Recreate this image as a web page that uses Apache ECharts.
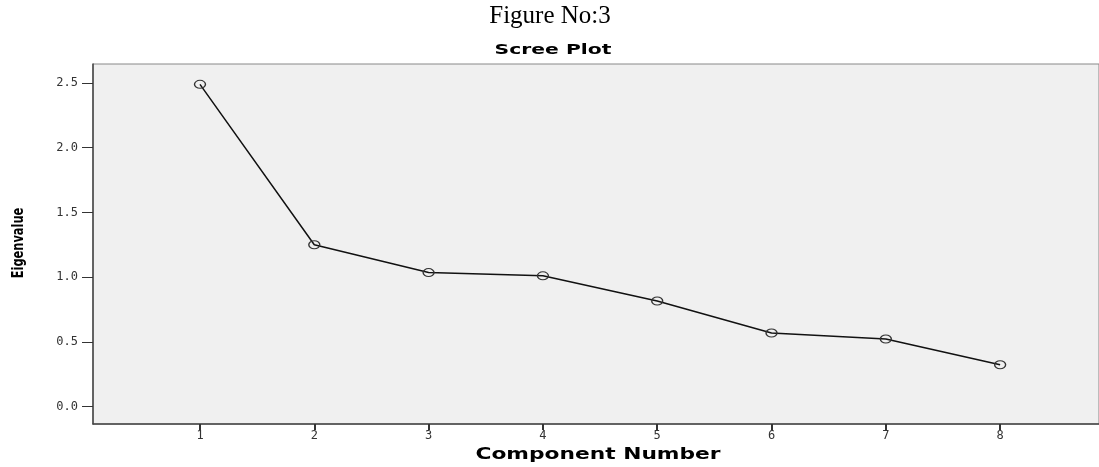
<!DOCTYPE html>
<html>
<head>
<meta charset="utf-8">
<script src="https://cdn.jsdelivr.net/npm/echarts@6/dist/echarts.min.js"></script>
<style>
html,body{margin:0;padding:0;background:#fff;}
#c{width:1099px;height:467px;}
</style>
</head>
<body>
<div id="c"></div>
<script>
var components = [1, 2, 3, 4, 5, 6, 7, 8];
var eigenvalues = [2.49, 1.25, 1.035, 1.01, 0.816, 0.568, 0.522, 0.323];
var yTicks = [0, 0.5, 1.0, 1.5, 2.0, 2.5];
var xTicks = [1, 2, 3, 4, 5, 6, 7, 8];

var chart = echarts.init(document.getElementById('c'), null, {renderer: 'canvas'});
var pts = components.map(function (c, i) { return [c, eigenvalues[i]]; });

chart.setOption({
  animation: false,
  backgroundColor: '#fff',
  graphic: [
    {type: 'text', x: 550, y: 16,
     style: {text: 'Figure No:3', x: 0, y: 0, align: 'center', verticalAlign: 'middle',
             font: "25px 'Liberation Serif', 'DejaVu Serif', serif", fill: '#000'}},
    {type: 'text', x: 553, y: 50, scaleX: 1.45,
     style: {text: 'Scree Plot', x: 0, y: 0, align: 'center', verticalAlign: 'middle',
             font: "bold 14px 'DejaVu Sans', sans-serif", fill: '#000'}},
    {type: 'text', x: 598, y: 455, scaleX: 1.45,
     style: {text: 'Component Number', x: 0, y: 0, align: 'center', verticalAlign: 'middle',
             font: "bold 15px 'DejaVu Sans', sans-serif", fill: '#000'}},
    {type: 'text', x: 19, y: 243, rotation: Math.PI / 2, scaleX: 0.76,
     style: {text: 'Eigenvalue', x: 0, y: 0, align: 'center', verticalAlign: 'middle',
             font: "bold 15px 'DejaVu Sans', sans-serif", fill: '#000'}}
  ],
  grid: {left: 93, right: 0, top: 64, bottom: 43, show: true, backgroundColor: '#f0f0f0', borderColor: '#888', borderWidth: 1},
  xAxis: {
    type: 'value', min: 0.064, max: 8.865,
    axisLine: {show: true, onZero: false, lineStyle: {color: '#444', width: 1.5}},
    axisTick: {show: true, length: 6, inside: false, customValues: xTicks, lineStyle: {color: '#333', width: 2}},
    axisLabel: {customValues: xTicks, fontFamily: "'DejaVu Sans Mono',monospace", fontSize: 12, color: '#333', margin: 6},
    splitLine: {show: false}
  },
  yAxis: {
    type: 'value', min: -0.135, max: 2.647,
    axisLine: {show: true, onZero: false, lineStyle: {color: '#444', width: 1.5}},
    axisTick: {show: true, length: 11, customValues: yTicks, lineStyle: {color: '#333', width: 1}},
    axisLabel: {customValues: yTicks, formatter: function (v) { return v.toFixed(1); },
      fontFamily: "'DejaVu Sans Mono',monospace", fontSize: 12, color: '#333', margin: 15},
    splitLine: {show: false}
  },
  series: [{
    type: 'line',
    data: pts,
    symbol: 'circle',
    symbolSize: [11, 8],
    showAllSymbol: true,
    lineStyle: {color: '#111', width: 1.5},
    itemStyle: {color: 'rgba(240,240,240,0)', borderColor: '#333', borderWidth: 1.2},
    z: 3
  }]
});
</script>
</body>
</html>
